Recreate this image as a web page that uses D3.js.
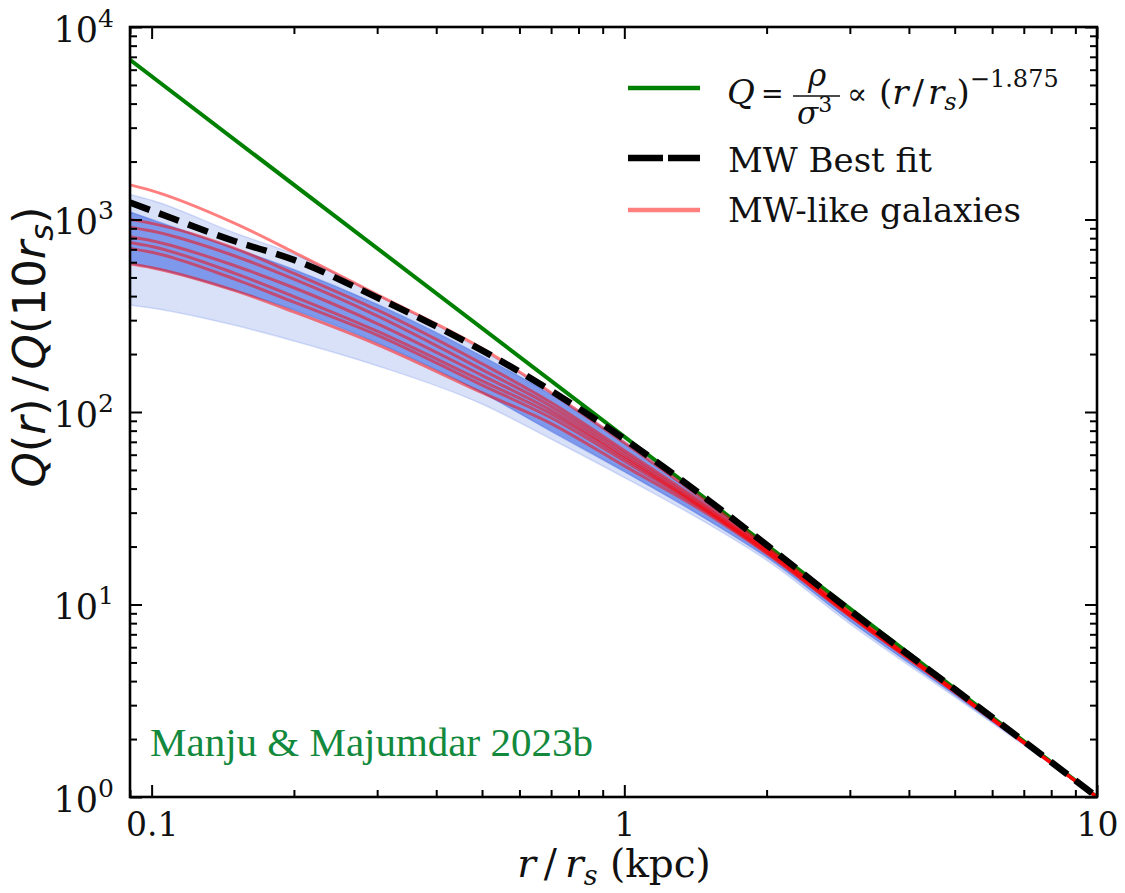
<!DOCTYPE html>
<html>
<head>
<meta charset="utf-8">
<script src="https://cdn.jsdelivr.net/npm/d3@7"></script>
<style>
  html, body { margin: 0; padding: 0; background: #fff; }
  svg { display: block; }
</style>
</head>
<body>
<svg id="chart" width="1125" height="893"></svg>
<script>
// Radii (in units of r_s) at which every profile is sampled
const radii = [0.09, 0.1, 0.15, 0.2, 0.3, 0.5, 0.7, 1, 1.5, 2, 3, 5, 7, 10];

// Pure power law Q ∝ (r/r_s)^-1.875, normalised to 1 at 10 r_s
const powerLawR = [0.09, 10];
const powerLawQ = [6750, 1];

// Milky Way best fit
const bestFitQ = [1225, 1112, 771, 617, 393, 209, 129, 72.4, 35.1, 20.4, 9.33, 3.63, 1.95, 1];

// Outer (light) spread of the posterior
const outerLowQ  = [360, 347, 282, 234, 174, 110, 72.4, 45.7, 26.3, 17.0, 7.94, 3.31, 1.86, 1];
const outerHighQ = [1349, 1259, 851, 661, 407, 209, 126, 70.8, 34.3, 19.95, 9.12, 3.59, 1.93, 1];

// Inner (dark) spread of the posterior
const innerLowQ  = [589, 562, 427, 339, 229, 126, 79.4, 49.0, 27.5, 17.6, 8.22, 3.39, 1.88, 1];
const innerHighQ = [1096, 1000, 708, 550, 363, 195, 123, 69.2, 33.5, 19.7, 9.02, 3.57, 1.92, 1];

// MW-like galaxies
const galaxyA = [1514, 1413, 955, 676, 407, 214, 126, 69.2, 33.9, 19.95, 9.12, 3.59, 1.93, 1];
const galaxyB = [1000, 955, 708, 525, 339, 178, 112, 63.1, 32.4, 19.5, 9.02, 3.59, 1.93, 1];
const galaxyC = [912, 871, 646, 490, 316, 166, 107, 61.0, 31.6, 19.3, 8.91, 3.55, 1.92, 1];
const galaxyD = [813, 776, 575, 442, 288, 155, 102, 58.9, 30.9, 19.1, 8.91, 3.55, 1.92, 1];
const galaxyE = [759, 724, 525, 398, 263, 145, 97.7, 57.5, 30.5, 18.8, 8.81, 3.55, 1.91, 1];
const galaxyF = [708, 676, 490, 372, 251, 138, 93.3, 55.6, 30.2, 18.6, 8.71, 3.51, 1.91, 1];
const galaxyG = [589, 562, 427, 331, 224, 126, 87.1, 52.5, 29.5, 18.4, 8.71, 3.51, 1.91, 1];
const galaxies = [galaxyA, galaxyB, galaxyC, galaxyD, galaxyE, galaxyF, galaxyG];

// Axis ticks
const xMajorTicks = [0.1, 1, 10];
const xTickLabels = ["0.1", "1", "10"];
const yMajorTicks = [1, 10, 100, 1000, 10000];
const yTickExponents = ["0", "1", "2", "3", "4"];

// Legend entries
const legendLabels = ["MW Best fit", "MW-like galaxies"];
const creditText = "Manju & Majumdar 2023b";

const svg = d3.select("#chart");
const L = 130, R = 1097, T = 27, B = 797;

const x = d3.scaleLog().domain([0.09, 10]).range([L, R]);
const y = d3.scaleLog().domain([1, 1e4]).range([B, T]);

svg.append("defs").append("clipPath").attr("id", "plotClip")
  .append("rect").attr("x", L).attr("y", T).attr("width", R - L).attr("height", B - T);

const plot = svg.append("g").attr("clip-path", "url(#plotClip)");

// Power law
plot.append("path")
  .datum(powerLawR.map((r, i) => [r, powerLawQ[i]]))
  .attr("d", d3.line().x(d => x(d[0])).y(d => y(d[1])))
  .attr("fill", "none").attr("stroke", "#008000").attr("stroke-width", 4);

// Bands
const band = (lo, hi) => radii.map((r, i) => ({ r, lo: lo[i], hi: hi[i] }));
const area = d3.area().curve(d3.curveMonotoneX)
  .x(d => x(d.r)).y0(d => y(d.lo)).y1(d => y(d.hi));

plot.append("path").datum(band(outerLowQ, outerHighQ))
  .attr("d", area)
  .attr("fill", "#4169e1").attr("fill-opacity", 0.2)
  .attr("stroke", "#4169e1").attr("stroke-opacity", 0.2).attr("stroke-width", 1.5);

plot.append("path").datum(band(innerLowQ, innerHighQ))
  .attr("d", area)
  .attr("fill", "#4169e1").attr("fill-opacity", 0.6)
  .attr("stroke", "#4169e1").attr("stroke-opacity", 0.4).attr("stroke-width", 1.5);

const curve = d3.line().curve(d3.curveMonotoneX)
  .x(d => x(d[0])).y(d => y(d[1]));

// MW-like galaxies
plot.selectAll(".galaxy").data(galaxies).join("path")
  .attr("class", "galaxy")
  .attr("d", q => curve(radii.map((r, i) => [r, q[i]])))
  .attr("fill", "none").attr("stroke", "#ff0000")
  .attr("stroke-opacity", 0.5).attr("stroke-width", 3);

// Best fit
plot.append("path")
  .attr("d", curve(radii.map((r, i) => [r, bestFitQ[i]])))
  .attr("fill", "none").attr("stroke", "#000")
  .attr("stroke-width", 6.5).attr("stroke-dasharray", "21,10");

// Axes
const minorX = x.ticks().filter(t => !xMajorTicks.some(m => Math.abs(m - t) < 1e-9));
const minorY = y.ticks().filter(t => !yMajorTicks.some(m => Math.abs(m - t) < 1e-9));

function styleAxis(g) {
  g.select(".domain").remove();
  g.selectAll(".tick line").attr("stroke", "#000").attr("stroke-width", 2);
}

// bottom
svg.append("g").attr("transform", `translate(0,${B})`)
  .call(d3.axisBottom(x).tickValues(minorX).tickSizeInner(-7).tickSizeOuter(0).tickFormat(""))
  .call(styleAxis);
const xAx = svg.append("g").attr("transform", `translate(0,${B})`)
  .call(d3.axisBottom(x).tickValues(xMajorTicks).tickSizeInner(-12).tickSizeOuter(0)
    .tickPadding(16).tickFormat((d, i) => xTickLabels[i]))
  .call(styleAxis);
xAx.selectAll("text").attr("font-family", "DejaVu Serif").attr("font-size", 33).attr("fill", "#111");

// top
svg.append("g").attr("transform", `translate(0,${T})`)
  .call(d3.axisTop(x).tickValues(minorX).tickSizeInner(-7).tickSizeOuter(0).tickFormat(""))
  .call(styleAxis);
svg.append("g").attr("transform", `translate(0,${T})`)
  .call(d3.axisTop(x).tickValues(xMajorTicks).tickSizeInner(-12).tickSizeOuter(0).tickFormat(""))
  .call(styleAxis);

// left
svg.append("g").attr("transform", `translate(${L},0)`)
  .call(d3.axisLeft(y).tickValues(minorY).tickSizeInner(-7).tickSizeOuter(0).tickFormat(""))
  .call(styleAxis);
const yAx = svg.append("g").attr("transform", `translate(${L},0)`)
  .call(d3.axisLeft(y).tickValues(yMajorTicks).tickSizeInner(-12).tickSizeOuter(0)
    .tickPadding(16).tickFormat(""))
  .call(styleAxis);
yAx.selectAll(".tick text")
  .attr("font-family", "DejaVu Serif").attr("fill", "#111")
  .attr("font-size", 35).attr("dy", "0.4em")
  .each(function (d, i) {
    const t = d3.select(this);
    t.append("tspan").text("10");
    t.append("tspan").attr("font-size", 25).attr("dy", -15).text(yTickExponents[i]);
  });

// right
svg.append("g").attr("transform", `translate(${R},0)`)
  .call(d3.axisRight(y).tickValues(minorY).tickSizeInner(-7).tickSizeOuter(0).tickFormat(""))
  .call(styleAxis);
svg.append("g").attr("transform", `translate(${R},0)`)
  .call(d3.axisRight(y).tickValues(yMajorTicks).tickSizeInner(-12).tickSizeOuter(0).tickFormat(""))
  .call(styleAxis);

// frame
svg.append("rect").attr("x", L).attr("y", T).attr("width", R - L).attr("height", B - T)
  .attr("fill", "none").attr("stroke", "#000").attr("stroke-width", 2.6);

// Axis titles
const xl = svg.append("text").attr("x", 614).attr("y", 877)
  .attr("text-anchor", "middle").attr("font-family", "DejaVu Serif").attr("font-size", 39).attr("fill", "#111");
xl.append("tspan").attr("font-style", "italic").text("r");
xl.append("tspan").attr("dx", 8).text("/");
xl.append("tspan").attr("dx", 8).attr("font-style", "italic").text("r");
xl.append("tspan").attr("font-style", "italic").attr("font-size", 27).attr("dy", 8).text("s");
xl.append("tspan").attr("dy", -8).text(" (kpc)");

const yl = svg.append("text").attr("transform", "translate(45,347) rotate(-90)")
  .attr("text-anchor", "middle").attr("font-family", "DejaVu Sans").attr("font-size", 45).attr("fill", "#111");
yl.append("tspan").attr("font-style", "italic").text("Q");
yl.append("tspan").text("(");
yl.append("tspan").attr("font-style", "italic").text("r");
yl.append("tspan").text(")");
yl.append("tspan").attr("dx", 7).text("/");
yl.append("tspan").attr("dx", 7).attr("font-style", "italic").text("Q");
yl.append("tspan").text("(10");
yl.append("tspan").attr("font-style", "italic").text("r");
yl.append("tspan").attr("font-style", "italic").attr("font-size", 32).attr("dy", 8).text("s");
yl.append("tspan").attr("dy", -8).text(")");

// Legend
const lg = svg.append("g");
lg.append("line").attr("x1", 628).attr("x2", 700).attr("y1", 88).attr("y2", 88)
  .attr("stroke", "#008000").attr("stroke-width", 4.5);
lg.append("line").attr("x1", 628).attr("x2", 700).attr("y1", 158).attr("y2", 158)
  .attr("stroke", "#000").attr("stroke-width", 6.5).attr("stroke-dasharray", "35,5");
lg.append("line").attr("x1", 628).attr("x2", 700).attr("y1", 210).attr("y2", 210)
  .attr("stroke", "#ff0000").attr("stroke-opacity", 0.5).attr("stroke-width", 4.5);

const serif = "DejaVu Serif";
lg.append("text").attr("x", 728).attr("y", 172).attr("font-family", serif).attr("font-size", 34)
  .attr("fill", "#111").text(legendLabels[0]);
lg.append("text").attr("x", 728).attr("y", 222).attr("font-family", serif).attr("font-size", 34)
  .attr("fill", "#111").text(legendLabels[1]);

// Legend formula: Q = ρ/σ³ ∝ (r/r_s)^−1.875
const f = lg.append("g").attr("font-family", serif).attr("fill", "#111");
f.append("text").attr("x", 727).attr("y", 104).attr("font-size", 34).attr("font-style", "italic").text("Q");
f.append("text").attr("x", 761).attr("y", 103).attr("font-size", 27).text("=");
f.append("text").attr("x", 817).attr("y", 86).attr("text-anchor", "middle").attr("font-size", 31)
  .attr("font-style", "italic").text("ρ");
f.append("line").attr("x1", 793).attr("x2", 840).attr("y1", 96).attr("y2", 96)
  .attr("stroke", "#111").attr("stroke-width", 1.6);
const den = f.append("text").attr("x", 797).attr("y", 124).attr("font-size", 31);
den.append("tspan").attr("font-style", "italic").text("σ");
den.append("tspan").attr("font-size", 22).attr("dy", -12).text("3");
f.append("text").attr("x", 847).attr("y", 104).attr("font-size", 30).text("∝");
const pw = f.append("text").attr("x", 879).attr("y", 104).attr("font-size", 34);
pw.append("tspan").text("(");
pw.append("tspan").attr("font-style", "italic").text("r");
pw.append("tspan").attr("dx", 4).text("/");
pw.append("tspan").attr("dx", 4).attr("font-style", "italic").text("r");
pw.append("tspan").attr("font-style", "italic").attr("font-size", 24).attr("dy", 6).text("s");
pw.append("tspan").attr("dy", -6).text(")");
pw.append("tspan").attr("font-size", 24).attr("dy", -17).text("−1.875");

// Credit
svg.append("text").attr("x", 150).attr("y", 756)
  .attr("font-family", "Liberation Serif").attr("font-size", 41)
  .attr("fill", "#12893c").text(creditText);
</script>
</body>
</html>
